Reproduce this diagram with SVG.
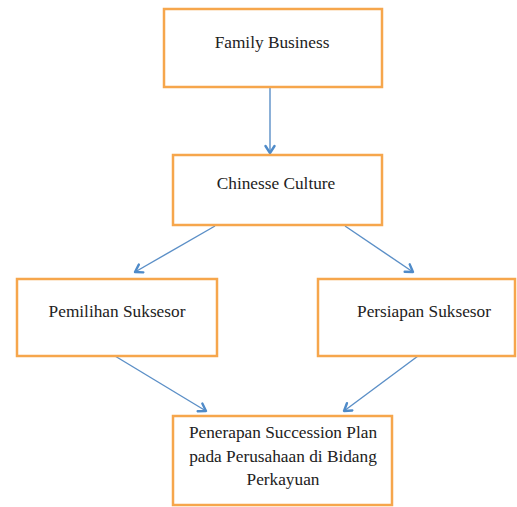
<svg xmlns="http://www.w3.org/2000/svg" width="517" height="507" viewBox="0 0 517 507">
<defs>
<style>
.box{fill:#ffffff;stroke:#F6A64C;stroke-width:2.5}
.lbl{font-family:'Liberation Serif','Times New Roman',serif;font-size:17.3px;fill:#222;text-anchor:middle}
.con{stroke:#5B8FC7;stroke-width:1.4;fill:none}
</style>
<marker id="ah" markerWidth="12" markerHeight="12" refX="9" refY="6" orient="auto" markerUnits="userSpaceOnUse">
<path d="M2,1.5 L9,6 L2,10.5" fill="none" stroke="#4F8BC9" stroke-width="2.4" stroke-linecap="round" stroke-linejoin="round"/>
</marker>
</defs>
<rect width="517" height="507" fill="#ffffff"/>
<g id="connectors">
<line class="con" x1="270" y1="88" x2="270" y2="153" marker-end="url(#ah)"/>
<line class="con" x1="215" y1="226" x2="135" y2="272" marker-end="url(#ah)"/>
<line class="con" x1="345" y1="226" x2="413" y2="272" marker-end="url(#ah)"/>
<line class="con" x1="115" y1="356" x2="206" y2="411" marker-end="url(#ah)"/>
<line class="con" x1="418" y1="356" x2="344" y2="411" marker-end="url(#ah)"/>
</g>
<g id="family-business">
<rect class="box" x="164" y="9" width="218" height="78"/>
<text class="lbl" x="272" y="48">Family Business</text>
</g>
<g id="chinesse-culture">
<rect class="box" x="173" y="155" width="209" height="70"/>
<text class="lbl" x="276" y="189">Chinesse Culture</text>
</g>
<g id="pemilihan-suksesor">
<rect class="box" x="17" y="279" width="200" height="77"/>
<text class="lbl" x="117" y="317">Pemilihan Suksesor</text>
</g>
<g id="persiapan-suksesor">
<rect class="box" x="318" y="279" width="197" height="77"/>
<text class="lbl" x="424" y="317">Persiapan Suksesor</text>
</g>
<g id="penerapan">
<rect class="box" x="173" y="416" width="219" height="89"/>
<text class="lbl" x="283" y="438">Penerapan Succession Plan</text>
<text class="lbl" x="283" y="462">pada Perusahaan di Bidang</text>
<text class="lbl" x="283" y="485">Perkayuan</text>
</g>
</svg>
